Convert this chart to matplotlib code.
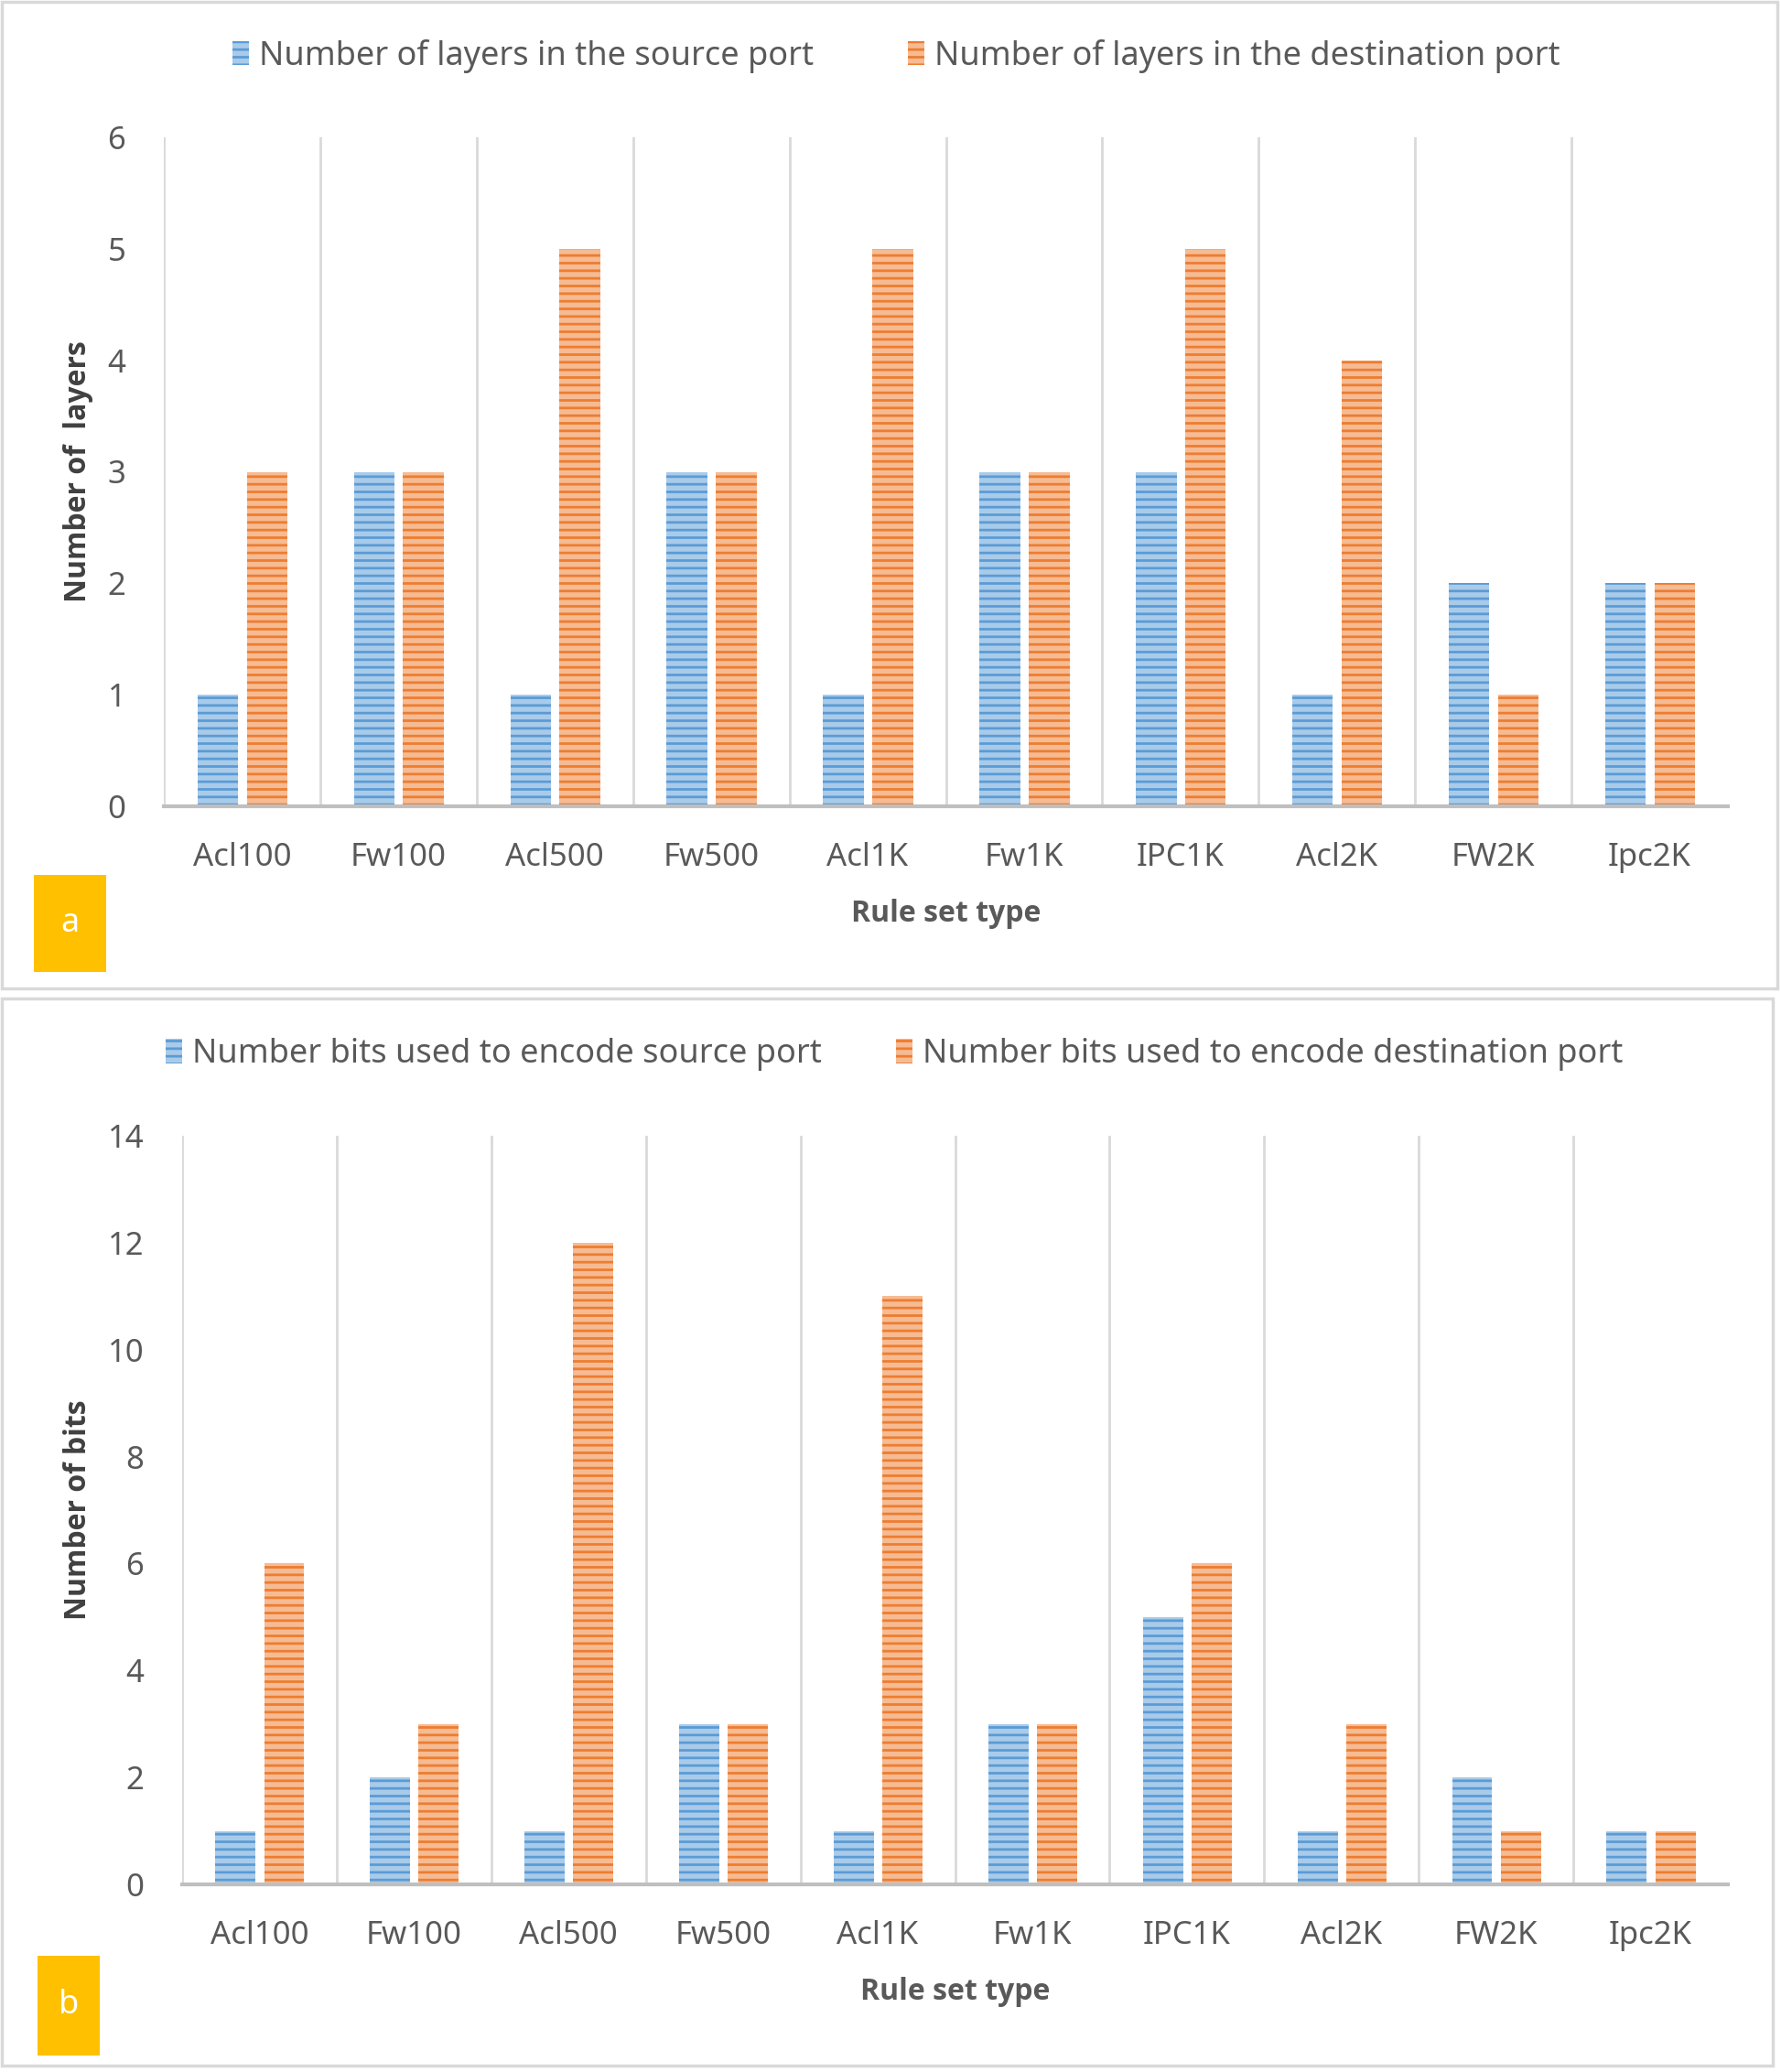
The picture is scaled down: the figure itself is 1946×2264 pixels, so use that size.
import numpy as np
import matplotlib
matplotlib.use("Agg")
import matplotlib.pyplot as plt
from matplotlib.patches import Rectangle

plt.rcParams["font.family"] = ["Noto Sans", "DejaVu Sans"]
plt.rcParams["hatch.linewidth"] = 2.0

# ── Data ──────────────────────────────────────────────────────────────
rule_sets = ["Acl100", "Fw100", "Acl500", "Fw500", "Acl1K",
             "Fw1K", "IPC1K", "Acl2K", "FW2K", "Ipc2K"]
layers_src = [1, 3, 1, 3, 1, 3, 3, 1, 2, 2]
layers_dst = [3, 3, 5, 3, 5, 3, 5, 4, 1, 2]
bits_src = [1, 2, 1, 3, 1, 3, 5, 1, 2, 1]
bits_dst = [6, 3, 12, 3, 11, 3, 6, 3, 1, 1]

W, H = 1946, 2264
fig = plt.figure(figsize=(W / 100, H / 100), dpi=100)
fig.patch.set_facecolor("white")

BLUE_FACE, BLUE_LINE = "#a9cbea", "#5b9bd5"
ORNG_FACE, ORNG_LINE = "#f6bb93", "#ed7d31"
TXT = "#595959"
GRID = "#d9d9d9"
BOLD_FONT = ["Open Sans", "Lato", "DejaVu Sans"]


def px_axes(l, t, r, b):
    return fig.add_axes([l / W, 1 - b / H, (r - l) / W, (b - t) / H])


def panel(ax, src, dst, ymax, ystep, ylabel, leg_labels, leg_y, leg_x, tag, tag_box):
    x = np.arange(len(rule_sets))
    w = 0.26
    b1 = ax.bar(x - 0.155, src, w, facecolor=BLUE_FACE, edgecolor=BLUE_LINE,
                linewidth=0, hatch="--", zorder=3)
    b2 = ax.bar(x + 0.16, dst, w, facecolor=ORNG_FACE, edgecolor=ORNG_LINE,
                linewidth=0, hatch="--", zorder=3)
    ax.set_xlim(-0.5, len(rule_sets) - 0.5)
    ax.set_ylim(0, ymax)
    ax.set_yticks(np.arange(0, ymax + 1, ystep))
    ax.set_xticks(x)
    ax.set_xticklabels(rule_sets)
    for xb in np.arange(-0.5, len(rule_sets) - 0.5, 1.0):
        ax.axvline(xb, color=GRID, lw=2, zorder=1)
    for s in ["top", "right", "left"]:
        ax.spines[s].set_visible(False)
    ax.spines["bottom"].set_color("#bfbfbf")
    ax.spines["bottom"].set_linewidth(3)
    ax.spines["bottom"].set_zorder(4)
    ax.tick_params(axis="both", length=0, labelsize=25, colors=TXT)
    ax.tick_params(axis="y", pad=30)
    ax.tick_params(axis="x", pad=28)
    ax.set_xlabel("Rule set type", fontsize=23, fontweight="bold", color=TXT,
                  family=BOLD_FONT, labelpad=20)
    ax.set_ylabel(ylabel, fontsize=23, fontweight="bold", color="#404040",
                  family=BOLD_FONT, labelpad=11)

    # legend drawn as two separate entries
    for bar, lab, lx in zip([b1, b2], leg_labels, leg_x):
        fig.legend([bar], [lab], loc="center left",
                   bbox_to_anchor=(lx / W, 1 - leg_y / H), frameon=False,
                   fontsize=26, labelcolor=TXT, handlelength=0.5,
                   handleheight=0.75, handletextpad=0.3, borderpad=0,
                   borderaxespad=0)

    l, t, r, b = tag_box
    fig.patches.append(Rectangle((l / W, 1 - b / H), (r - l) / W, (b - t) / H,
                                 transform=fig.transFigure, facecolor="#ffc000",
                                 edgecolor="none", zorder=5))
    fig.text((l + r) / 2 / W, 1 - (t + b) / 2 / H, tag, ha="center", va="center",
             color="white", fontsize=26, zorder=6)


# panel borders
for (l, t, r, b) in [(2, 2, 1942, 1080), (2, 1091, 1937, 2257)]:
    fig.patches.append(Rectangle((l / W, 1 - b / H), (r - l) / W, (b - t) / H,
                                 transform=fig.transFigure, facecolor="none",
                                 edgecolor=GRID, lw=2.5))

ax_a = px_axes(179, 150, 1888, 881)
panel(ax_a, layers_src, layers_dst, 6, 1, "Number of  layers",
      ["Number of layers in the source port", "Number of layers in the destination port"],
      61, [254, 992], "a", (37, 956, 116, 1062))

ax_b = px_axes(199, 1241, 1888, 2059)
panel(ax_b, bits_src, bits_dst, 14, 2, "Number of bits",
      ["Number bits used to encode source port", "Number bits used to encode destination port"],
      1152, [181, 979], "b", (41, 2137, 109, 2246))

fig.savefig("out.png", dpi=100, facecolor="white")
